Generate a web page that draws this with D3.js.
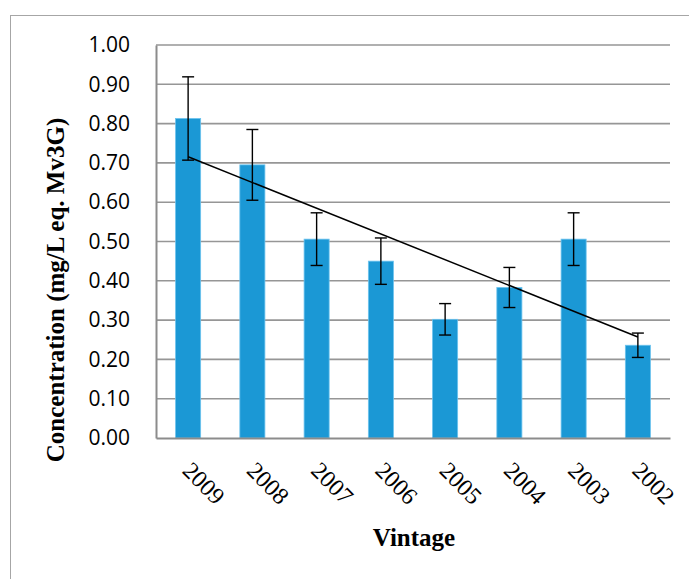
<!DOCTYPE html>
<html>
<head>
<meta charset="utf-8">
<script src="https://cdn.jsdelivr.net/npm/d3@7"></script>
<style>
  html, body { margin: 0; padding: 0; background: #fff; }
  svg { display: block; }
</style>
</head>
<body>
<svg id="chart" width="689" height="579"></svg>
<script>
const categories = ["2009", "2008", "2007", "2006", "2005", "2004", "2003", "2002"];
const values = [0.813, 0.695, 0.506, 0.450, 0.302, 0.383, 0.506, 0.236];
const errors = [0.106, 0.090, 0.067, 0.059, 0.040, 0.051, 0.067, 0.031];
const yTicks = [0.0, 0.1, 0.2, 0.3, 0.4, 0.5, 0.6, 0.7, 0.8, 0.9, 1.0];
const yTitle = "Concentration (mg/L eq. Mv3G)";
const xTitle = "Vintage";

const svg = d3.select("#chart");
const plot = { left: 156, right: 670, top: 45, bottom: 438 };

// outer chart border (clipped by page edge)
svg.append("rect")
  .attr("x", 10.5).attr("y", 15.5)
  .attr("width", 800).attr("height", 800)
  .attr("fill", "none").attr("stroke", "#a6a6a6").attr("stroke-width", 1);

const x = d3.scaleBand()
  .domain(categories)
  .range([plot.left, plot.right])
  .paddingInner(0.61)
  .paddingOuter(0.305);

const y = d3.scaleLinear().domain([0, 1]).range([plot.bottom, plot.top]);

// gridlines
svg.append("g")
  .selectAll("line")
  .data(yTicks.filter(d => d > 0))
  .join("line")
  .attr("x1", plot.left).attr("x2", plot.right)
  .attr("y1", d => y(d)).attr("y2", d => y(d))
  .attr("stroke", "#969696").attr("stroke-width", 1.6);

// y axis
const yAxis = svg.append("g")
  .attr("transform", `translate(${plot.left},0)`)
  .call(d3.axisLeft(y).tickValues(yTicks).tickFormat(d3.format(".2f")).tickSize(0).tickPadding(26));
yAxis.select(".domain").attr("stroke", "#8c8c8c").attr("stroke-width", 2);
yAxis.selectAll("text")
  .attr("font-family", "'Open Sans', 'Liberation Sans', sans-serif")
  .attr("font-weight", 400)
  .attr("font-size", 21)
  .attr("fill", "#000");

// bars
svg.append("g")
  .selectAll("rect")
  .data(values)
  .join("rect")
  .attr("x", (d, i) => x(categories[i]))
  .attr("width", x.bandwidth())
  .attr("y", d => y(d))
  .attr("height", d => y(0) - y(d))
  .attr("fill", "#1b98d5")
  .attr("stroke", "#6cc3ee")
  .attr("stroke-width", 0.8);

// x axis baseline
const xAxis = svg.append("g")
  .attr("transform", `translate(0,${plot.bottom})`)
  .call(d3.axisBottom(x).tickSize(0).tickFormat(""));
xAxis.select(".domain").attr("stroke", "#8c8c8c").attr("stroke-width", 2.2);

// x tick labels, rotated
svg.append("g")
  .selectAll("text")
  .data(categories)
  .join("text")
  .attr("transform", d => `translate(${x(d) + x.bandwidth() / 2 - 7},${plot.bottom + 34}) rotate(45)`)
  .attr("text-anchor", "start")
  .attr("font-family", "'Liberation Serif', 'Times New Roman', serif")
  .attr("font-size", 24)
  .attr("fill", "#000")
  .text(d => d);

// trend line (least squares over bar index)
const n = values.length;
const xs = d3.range(1, n + 1);
const mx = d3.mean(xs), my = d3.mean(values);
const slope = d3.sum(xs, (xi, i) => (xi - mx) * (values[i] - my)) / d3.sum(xs, xi => (xi - mx) ** 2);
const icpt = my - slope * mx;
const cx = c => x(c) + x.bandwidth() / 2;
svg.append("line")
  .attr("x1", cx(categories[0])).attr("y1", y(icpt + slope * 1))
  .attr("x2", cx(categories[n - 1])).attr("y2", y(icpt + slope * n))
  .attr("stroke", "#000").attr("stroke-width", 1.5);

// error bars
const eg = svg.append("g").attr("stroke", "#000").attr("stroke-width", 1.4);
values.forEach((v, i) => {
  const c = cx(categories[i]);
  const hi = y(v + errors[i]), lo = y(v - errors[i]);
  eg.append("line").attr("x1", c).attr("x2", c).attr("y1", hi).attr("y2", lo);
  eg.append("line").attr("x1", c - 6).attr("x2", c + 6).attr("y1", hi).attr("y2", hi);
  eg.append("line").attr("x1", c - 6).attr("x2", c + 6).attr("y1", lo).attr("y2", lo);
});

// axis titles
svg.append("text")
  .attr("transform", `translate(64,290) rotate(-90)`)
  .attr("text-anchor", "middle")
  .attr("font-family", "'Liberation Serif', 'Times New Roman', serif")
  .attr("font-weight", "bold")
  .attr("font-size", 25)
  .attr("fill", "#000")
  .text(yTitle);

svg.append("text")
  .attr("x", (plot.left + plot.right) / 2 + 1)
  .attr("y", 546)
  .attr("text-anchor", "middle")
  .attr("font-family", "'Liberation Serif', 'Times New Roman', serif")
  .attr("font-weight", "bold")
  .attr("font-size", 25)
  .attr("fill", "#000")
  .text(xTitle);
</script>
</body>
</html>
